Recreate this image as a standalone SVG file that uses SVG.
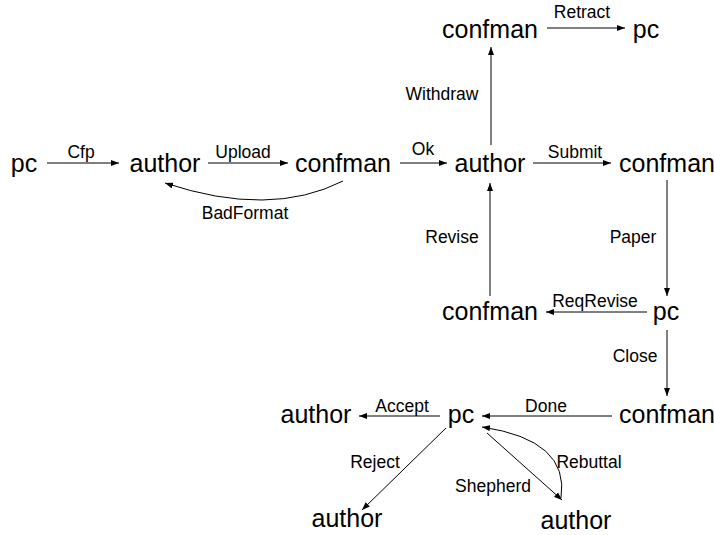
<svg xmlns="http://www.w3.org/2000/svg" width="714" height="535" viewBox="0 0 714 535">
<defs>
<marker id="ah" viewBox="0 0 8 6" refX="8" refY="3" markerWidth="8" markerHeight="6" markerUnits="userSpaceOnUse" orient="auto">
<path d="M0,0 L8,3 L0,6 Z" fill="#000"/>
</marker>
<style>
.n{font-family:"Liberation Sans",Arial,sans-serif;font-size:25px;fill:#000;text-anchor:middle}
.l{font-family:"Liberation Sans",Arial,sans-serif;font-size:17.5px;fill:#000;text-anchor:middle}
.e{fill:none;stroke:#000;stroke-width:1;marker-end:url(#ah)}
</style>
</defs>
<rect width="714" height="535" fill="#fff"/>
<g id="nodes">
<g id="pc1"><text class="n" x="24" y="172">pc</text></g>
<g id="author1"><text class="n" x="165" y="172">author</text></g>
<g id="confman1"><text class="n" x="343" y="172">confman</text></g>
<g id="author2"><text class="n" x="490" y="172">author</text></g>
<g id="confman2"><text class="n" x="667" y="172">confman</text></g>
<g id="confman3"><text class="n" x="490" y="38">confman</text></g>
<g id="pc2"><text class="n" x="646" y="38">pc</text></g>
<g id="confman4"><text class="n" x="490" y="320">confman</text></g>
<g id="pc3"><text class="n" x="666" y="320">pc</text></g>
<g id="confman5"><text class="n" x="667" y="423">confman</text></g>
<g id="pc4"><text class="n" x="461" y="423">pc</text></g>
<g id="author3"><text class="n" x="316" y="423">author</text></g>
<g id="author4"><text class="n" x="347" y="527">author</text></g>
<g id="author5"><text class="n" x="576" y="529">author</text></g>
</g>
<g id="connectors">
<path class="e" d="M47,163 L119,163"/>
<path class="e" d="M208,163 L288,163"/>
<path class="e" d="M343,181 Q270,218 165,183"/>
<path class="e" d="M400,163 L447,163"/>
<path class="e" d="M533,163 L611,163"/>
<path class="e" d="M491,145 L491,47"/>
<path class="e" d="M547,28 L625,28"/>
<path class="e" d="M667,180 L667,296"/>
<path class="e" d="M490,296 L490,183"/>
<path class="e" d="M647,312 L546,312"/>
<path class="e" d="M667,330 L667,396"/>
<path class="e" d="M612,416 L482,416"/>
<path class="e" d="M440,416 L359,416"/>
<path class="e" d="M446,428 L362,510"/>
<path class="e" d="M487,433 L562,500"/>
<path class="e" d="M561,498 Q570,440 482,427"/>
</g>
<g id="labels">
<text class="l" x="81" y="158">Cfp</text>
<text class="l" x="243" y="158">Upload</text>
<text class="l" x="245" y="219">BadFormat</text>
<text class="l" x="423" y="155">Ok</text>
<text class="l" x="575" y="158">Submit</text>
<text class="l" x="442" y="100">Withdraw</text>
<text class="l" x="582" y="18">Retract</text>
<text class="l" x="633" y="243">Paper</text>
<text class="l" x="452" y="243">Revise</text>
<text class="l" x="595" y="307">ReqRevise</text>
<text class="l" x="635" y="362">Close</text>
<text class="l" x="546" y="412">Done</text>
<text class="l" x="402" y="412">Accept</text>
<text class="l" x="375" y="468">Reject</text>
<text class="l" x="493" y="492">Shepherd</text>
<text class="l" x="589" y="468">Rebuttal</text>
</g>
</svg>
